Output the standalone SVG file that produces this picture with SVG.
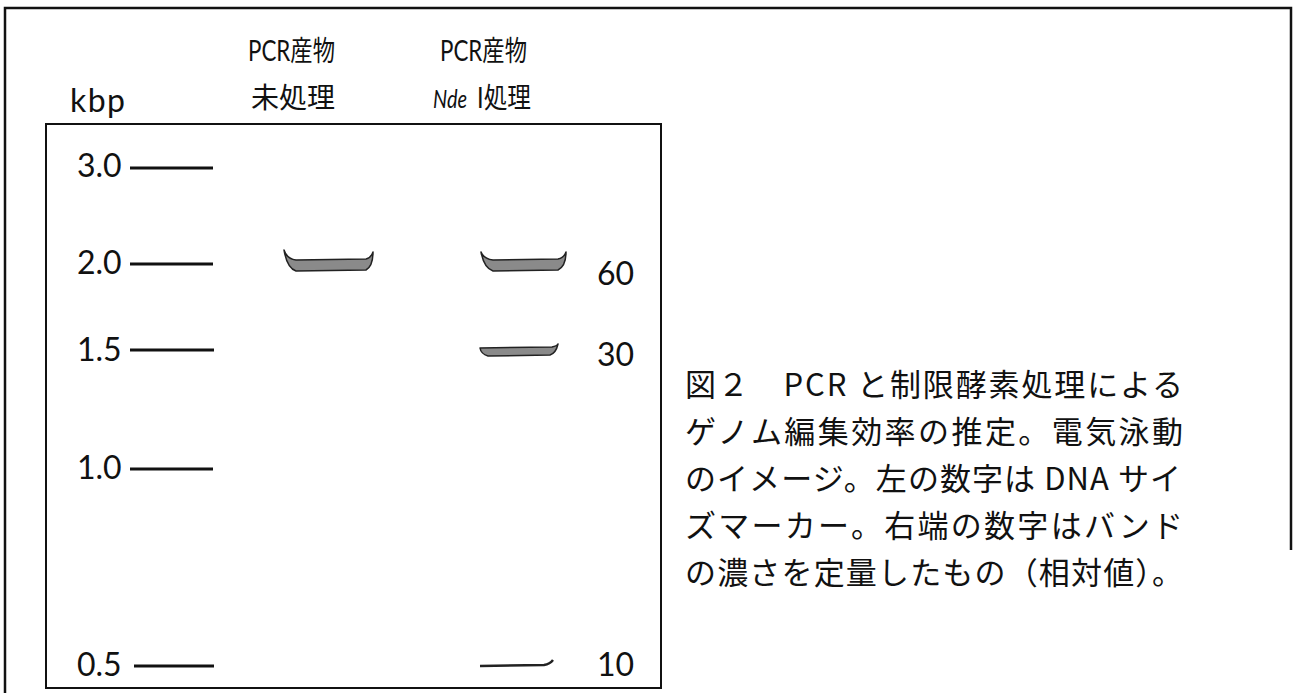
<svg xmlns="http://www.w3.org/2000/svg" width="1293" height="693" viewBox="0 0 1293 693">
<style>
.lat{font-family:Lato,"Noto Sans CJK JP",sans-serif;fill:#111}
.lbl{font-size:28px}
.mk{font-size:32px}
.cap{font-family:"Noto Sans CJK JP",sans-serif;font-size:31px;fill:#111}
.frame{fill:none;stroke:#111;stroke-width:2.5}
.mline{stroke:#111;stroke-width:3}
.band{fill:#8a8a8a;stroke:#222;stroke-width:1.5;stroke-linejoin:round}
</style>
<g id="frame">
<path class="frame" d="M5,693 V8 H1291 V550"/>
</g>
<g id="gel">
<rect x="46" y="124" width="615" height="564" fill="none" stroke="#111" stroke-width="2"/>
</g>
<g id="headers">
<text class="lat mk" x="70" y="112" textLength="55" lengthAdjust="spacing">kbp</text>
<text class="lat lbl" x="248" y="61" textLength="87" lengthAdjust="spacingAndGlyphs">PCR産物</text>
<text class="lat lbl" x="251" y="108">未処理</text>
<text class="lat lbl" x="440" y="61" textLength="87" lengthAdjust="spacingAndGlyphs">PCR産物</text>
<text class="lat" x="433" y="108" font-size="26" font-style="italic" textLength="34" lengthAdjust="spacingAndGlyphs">Nde</text>
<text class="lat lbl" x="477" y="108" textLength="54" lengthAdjust="spacingAndGlyphs">I処理</text>
</g>
<g id="marker">
<text class="lat mk" x="77" y="177">3.0</text>
<text class="lat mk" x="77" y="274">2.0</text>
<text class="lat mk" x="77" y="361">1.5</text>
<text class="lat mk" x="77" y="479">1.0</text>
<text class="lat mk" x="77" y="676">0.5</text>
<line class="mline" x1="130" y1="168" x2="213" y2="168"/>
<line class="mline" x1="130" y1="264" x2="213" y2="264"/>
<line class="mline" x1="130" y1="350" x2="214" y2="350"/>
<line class="mline" x1="130" y1="469" x2="213" y2="469"/>
<line class="mline" x1="134" y1="666" x2="214" y2="666"/>
</g>
<g id="lane1">
<path class="band" d="M284,250 Q287,259 296,260 L366,259 Q371,258 373,252 Q373,266 366,270 L296,271 Q287,268 284,250 Z"/>
</g>
<g id="lane2">
<path class="band" d="M481,252 Q484,259 493,260 L558,259 Q564,258 566,252 Q566,266 558,270 L493,271 Q484,268 481,252 Z"/>
<path class="band" d="M480,348 L552,347 Q557,346 558,344 Q556,353 550,355 L488,356 Q481,354 480,348 Z"/>
<path d="M480,666 L544,665 Q550,664 553,660" fill="none" stroke="#222" stroke-width="2.5"/>
<text class="lat mk" x="597" y="285">60</text>
<text class="lat mk" x="597" y="366">30</text>
<text class="lat mk" x="597" y="676">10</text>
</g>
<g id="caption">
<text class="cap" x="685" y="396" textLength="498" lengthAdjust="spacing">図２　PCR と制限酵素処理による</text>
<text class="cap" x="685" y="443" textLength="498" lengthAdjust="spacing">ゲノム編集効率の推定。電気泳動</text>
<text class="cap" x="685" y="490" textLength="496" lengthAdjust="spacing">のイメージ。左の数字は DNA サイ</text>
<text class="cap" x="685" y="537" textLength="498" lengthAdjust="spacing">ズマーカー。右端の数字はバンド</text>
<text class="cap" x="685" y="584" textLength="498" lengthAdjust="spacing">の濃さを定量したもの（相対値）。</text>
</g>
</svg>
